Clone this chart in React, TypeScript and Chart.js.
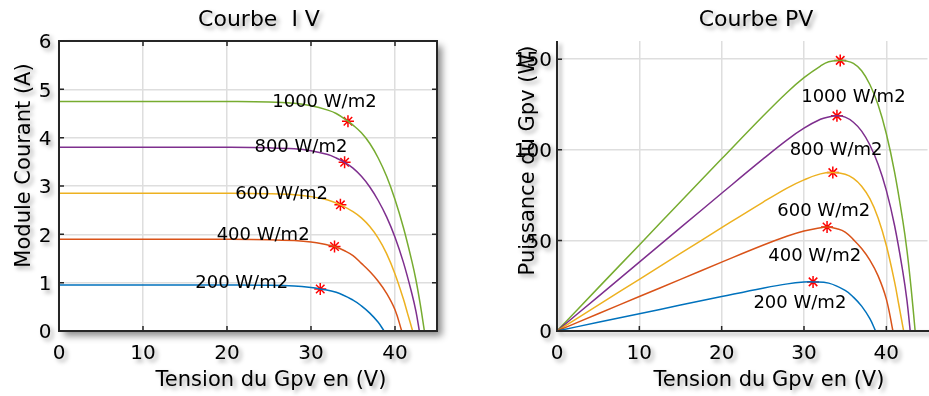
import React, { useEffect, useRef } from 'react';
import { Chart, registerables } from 'chart.js';

Chart.register(...registerables);

// ---------------- DATA ----------------
const irradianceLabels = ['200 W/m2', '400 W/m2', '600 W/m2', '800 W/m2', '1000 W/m2'];
const seriesColors = ['#0072BD', '#D95319', '#EDB120', '#7E2F8E', '#77AC30'];

// 200 W/m2
const v200 = [0, 5, 10, 15, 20, 25, 28, 30, 31.1, 33, 35, 36, 37, 38, 38.7];
const i200 = [0.95, 0.95, 0.95, 0.95, 0.95, 0.945, 0.93, 0.9, 0.87, 0.8, 0.64, 0.52, 0.37, 0.18, 0];
const p200 = [0, 4.8, 9.5, 14.3, 19, 23.6, 26, 27, 27.1, 26.4, 22.4, 18.7, 13.7, 6.8, 0];

// 400 W/m2
const v400 = [0, 5, 10, 15, 20, 25, 28, 30, 32, 32.8, 34, 35, 36, 37, 38, 39, 40, 40.8];
const i400 = [1.9, 1.9, 1.9, 1.9, 1.9, 1.89, 1.87, 1.84, 1.78, 1.75, 1.66, 1.56, 1.4, 1.23, 1.03, 0.78, 0.44, 0];
const p400 = [0, 9.5, 19, 28.5, 38, 47.3, 52.4, 55.2, 57, 57.4, 56.4, 54.6, 50.4, 45.5, 39.1, 30.4, 17.6, 0];

// 600 W/m2
const v600 = [0, 5, 10, 15, 20, 25, 28, 30, 32, 33.5, 35, 36, 37, 38, 39, 40, 41, 41.5, 42.1];
const i600 = [2.85, 2.85, 2.85, 2.85, 2.85, 2.84, 2.82, 2.78, 2.71, 2.61, 2.47, 2.34, 2.16, 1.92, 1.6, 1.18, 0.66, 0.36, 0];
const p600 = [0, 14.3, 28.5, 42.8, 57, 71, 79, 83.4, 86.7, 87.4, 86.5, 84.2, 79.9, 73.0, 62.4, 47.2, 27.1, 14.9, 0];

// 800 W/m2
const v800 = [0, 5, 10, 15, 20, 25, 28, 30, 32, 33, 34, 35, 36, 37, 38, 39, 40, 41, 42, 42.5, 42.9];
const i800 = [3.8, 3.8, 3.8, 3.8, 3.8, 3.79, 3.77, 3.73, 3.65, 3.58, 3.49, 3.37, 3.2, 2.98, 2.7, 2.36, 1.94, 1.42, 0.78, 0.4, 0];
const p800 = [0, 19, 38, 57, 76, 94.8, 105.6, 111.9, 116.8, 118.1, 118.7, 118.0, 115.2, 110.3, 102.6, 92.0, 77.6, 58.2, 32.8, 17.0, 0];

// 1000 W/m2
const v1000 = [0, 5, 10, 15, 20, 25, 28, 30, 32, 33, 34.4, 35, 36, 37, 38, 39, 40, 41, 42, 42.5, 43, 43.5];
const i1000 = [4.75, 4.75, 4.75, 4.75, 4.75, 4.74, 4.71, 4.66, 4.57, 4.5, 4.34, 4.26, 4.1, 3.88, 3.58, 3.2, 2.72, 2.14, 1.45, 1.05, 0.56, 0];
const p1000 = [0, 23.8, 47.5, 71.3, 95, 118.5, 131.9, 139.8, 146.2, 148.5, 149.3, 149.1, 147.6, 143.6, 136.0, 124.8, 108.8, 87.7, 60.9, 44.6, 24.1, 0];

// maximum power points (200 .. 1000 W/m2)
const mppV = [31.1, 32.8, 33.5, 34.0, 34.4];
const mppI = [0.87, 1.75, 2.61, 3.49, 4.34];
const mppP = [27.1, 57.4, 87.4, 118.7, 149.3];

// text anchors of the irradiance labels, in data units
const ivLabelV = [21.75, 24.3, 26.5, 28.8, 31.6];
const ivLabelI = [0.89, 1.89, 2.73, 3.7, 4.63];
const pvLabelV = [29.5, 31.3, 32.4, 33.9, 36.0];
const pvLabelP = [12.6, 38.4, 63.7, 96.9, 126.6];

// ticks
const voltTicks = [0, 10, 20, 30, 40];
const currentTicks = [0, 1, 2, 3, 4, 5, 6];
const powerTicks = [0, 50, 100, 150];

const allV = [v200, v400, v600, v800, v1000];
const allI = [i200, i400, i600, i800, i1000];
const allP = [p200, p400, p600, p800, p1000];

// ---------------- DRAWING ----------------
const FONT = '"DejaVu Sans", "Liberation Sans", sans-serif';
const INK = '#262626';

function drawText(
  ctx: CanvasRenderingContext2D,
  s: string,
  x: number,
  y: number,
  size: number,
  align: CanvasTextAlign,
  shadow: boolean,
  rotate = false
) {
  ctx.save();
  ctx.font = `${size}px ${FONT}`;
  ctx.fillStyle = '#000';
  ctx.textAlign = align;
  ctx.textBaseline = 'alphabetic';
  if (shadow) {
    ctx.shadowColor = 'rgba(0,0,0,0.35)';
    ctx.shadowBlur = 4;
    ctx.shadowOffsetX = 3;
    ctx.shadowOffsetY = 3;
  }
  if (rotate) {
    ctx.translate(x, y);
    ctx.rotate(-Math.PI / 2);
    ctx.fillText(s, 0, 0);
  } else {
    ctx.fillText(s, x, y);
  }
  ctx.restore();
}

type Deco = {
  box: boolean;
  title: string;
  titleX: number;
  xTitle: string;
  xTitleX: number;
  yTitle: string;
  yTitleX: number;
  yTitleY: number;
  yTickGap: number;
  xTicks: number[];
  yTicks: number[];
  labelX: number[];
  labelY: number[];
};

function makeDecor(d: Deco) {
  return {
    id: 'decor',
    beforeDraw(chart: any) {
      const { ctx, chartArea: a } = chart;
      ctx.save();
      ctx.fillStyle = '#fff';
      ctx.fillRect(0, 0, chart.width, chart.height);
      if (d.box) {
        ctx.shadowColor = 'rgba(0,0,0,0.45)';
        ctx.shadowBlur = 7;
        ctx.shadowOffsetX = 5;
        ctx.shadowOffsetY = 5;
        ctx.fillRect(a.left, a.top, a.right - a.left, a.bottom - a.top);
      }
      ctx.restore();
    },
    afterDatasetsDraw(chart: any) {
      const { ctx } = chart;
      const xs = chart.scales.x;
      const ys = chart.scales.y;
      d.labelX.forEach((lx, k) => {
        drawText(ctx, irradianceLabels[k], xs.getPixelForValue(lx), ys.getPixelForValue(d.labelY[k]), 18, 'center', false);
      });
    },
    afterDraw(chart: any) {
      const { ctx, chartArea: a } = chart;
      const xs = chart.scales.x;
      const ys = chart.scales.y;
      // axes lines
      ctx.save();
      ctx.strokeStyle = INK;
      ctx.lineWidth = 2;
      if (d.box) {
        ctx.strokeRect(a.left, a.top, a.right - a.left, a.bottom - a.top);
      } else {
        ctx.shadowColor = 'rgba(0,0,0,0.4)';
        ctx.shadowBlur = 4;
        ctx.shadowOffsetX = 3;
        ctx.shadowOffsetY = 3;
        ctx.beginPath();
        ctx.moveTo(a.left, a.top);
        ctx.lineTo(a.left, a.bottom);
        ctx.lineTo(a.right + 5, a.bottom);
        ctx.stroke();
      }
      ctx.restore();
      // inner tick marks
      ctx.save();
      ctx.strokeStyle = INK;
      ctx.lineWidth = 1.5;
      ctx.beginPath();
      d.xTicks.forEach((t) => {
        const px = xs.getPixelForValue(t);
        ctx.moveTo(px, a.bottom);
        ctx.lineTo(px, a.bottom - 5);
        if (d.box) {
          ctx.moveTo(px, a.top);
          ctx.lineTo(px, a.top + 5);
        }
      });
      d.yTicks.forEach((t) => {
        const py = ys.getPixelForValue(t);
        ctx.moveTo(a.left, py);
        ctx.lineTo(a.left + 5, py);
        if (d.box) {
          ctx.moveTo(a.right, py);
          ctx.lineTo(a.right - 5, py);
        }
      });
      ctx.stroke();
      ctx.restore();
      // tick labels
      d.xTicks.forEach((t) => {
        drawText(ctx, String(t), xs.getPixelForValue(t), 359, 20, 'center', true);
      });
      d.yTicks.forEach((t) => {
        drawText(ctx, String(t), a.left - d.yTickGap, ys.getPixelForValue(t) + 7.3, 20, 'right', true);
      });
      // titles
      drawText(ctx, d.title, d.titleX, 26, 22, 'center', true);
      drawText(ctx, d.xTitle, d.xTitleX, 385.5, 21, 'center', true);
      drawText(ctx, d.yTitle, d.yTitleX, d.yTitleY, 21, 'center', true, true);
    },
  };
}

function buildConfig(kind: 'iv' | 'pv'): any {
  const iv = kind === 'iv';
  const yVals = iv ? allI : allP;
  const curveSets = allV.map((vs, k) => ({
    label: irradianceLabels[k],
    data: vs.map((v, j) => ({ x: v, y: yVals[k][j] })),
    borderColor: seriesColors[k],
    backgroundColor: seriesColors[k],
    borderWidth: 1.5,
    pointRadius: 0,
    fill: false,
    tension: 0.4,
  }));
  const mppY = iv ? mppI : mppP;
  const mppSet = {
    label: 'MPP',
    data: mppV.map((v, j) => ({ x: v, y: mppY[j] })),
    showLine: false,
    pointStyle: 'star',
    pointRadius: 6,
    pointBorderWidth: 1.5,
    pointBorderColor: '#ff0000',
    pointBackgroundColor: '#ff0000',
    borderColor: '#ff0000',
  };
  const yTicks = iv ? currentTicks : powerTicks;
  const deco: Deco = iv
    ? {
        box: true,
        title: 'Courbe  I V',
        titleX: 259,
        xTitle: 'Tension du Gpv en (V)',
        xTitleX: 271,
        yTitle: 'Module Courant (A)',
        yTitleX: 30,
        yTitleY: 165.5,
        yTickGap: 7.5,
        xTicks: voltTicks,
        yTicks,
        labelX: ivLabelV,
        labelY: ivLabelI,
      }
    : {
        box: false,
        title: 'Courbe PV',
        titleX: 291,
        xTitle: 'Tension du Gpv en (V)',
        xTitleX: 304,
        yTitle: 'Puissance du Gpv (W)',
        yTitleX: 69,
        yTitleY: 160.5,
        yTickGap: 5,
        xTicks: voltTicks,
        yTicks,
        labelX: pvLabelV,
        labelY: pvLabelP,
      };
  const grid = { color: '#dedede', lineWidth: 1.5, drawTicks: false };
  return {
    type: 'line',
    data: { datasets: [...curveSets, mppSet] },
    options: {
      responsive: false,
      devicePixelRatio: 1,
      animation: false,
      events: [],
      layout: { padding: { top: 41, right: iv ? 28 : 0, bottom: 0, left: 0 } },
      plugins: { legend: { display: false }, tooltip: { enabled: false }, title: { display: false } },
      scales: {
        x: {
          type: 'linear',
          min: 0,
          max: 45,
          grid,
          border: { display: false },
          ticks: { display: false },
          afterBuildTicks: (s: any) => {
            s.ticks = voltTicks.map((v) => ({ value: v }));
          },
          afterFit: (s: any) => {
            s.height = 65;
          },
        },
        y: {
          type: 'linear',
          min: 0,
          max: iv ? 6 : 160,
          grid,
          border: { display: false },
          ticks: { display: false },
          afterBuildTicks: (s: any) => {
            s.ticks = yTicks.map((v) => ({ value: v }));
          },
          afterFit: (s: any) => {
            s.width = iv ? 59 : 92;
          },
        },
      },
    },
    plugins: [makeDecor(deco)],
  };
}

export default function App() {
  const leftRef = useRef<HTMLCanvasElement>(null);
  const rightRef = useRef<HTMLCanvasElement>(null);
  useEffect(() => {
    document.body.style.margin = '0';
    const c1 = new Chart(leftRef.current as HTMLCanvasElement, buildConfig('iv'));
    const c2 = new Chart(rightRef.current as HTMLCanvasElement, buildConfig('pv'));
    return () => {
      c1.destroy();
      c2.destroy();
    };
  }, []);
  return (
    <div
      style={{
        position: 'fixed',
        left: 0,
        top: 0,
        width: 929,
        height: 396,
        overflow: 'hidden',
        background: '#fff',
      }}
    >
      <canvas
        ref={leftRef}
        width={465}
        height={396}
        style={{ position: 'absolute', left: 0, top: 0, width: 465, height: 396 }}
      />
      <canvas
        ref={rightRef}
        width={470}
        height={396}
        style={{ position: 'absolute', left: 465, top: 0, width: 470, height: 396 }}
      />
    </div>
  );
}
